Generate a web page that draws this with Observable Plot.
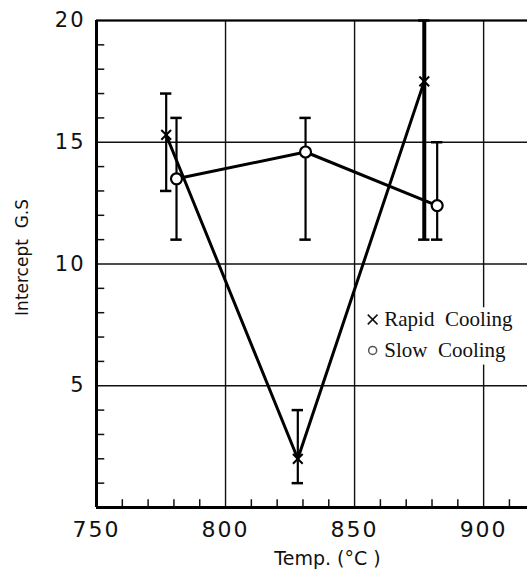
<!DOCTYPE html>
<html>
<head>
<meta charset="utf-8">
<script src="https://cdn.jsdelivr.net/npm/d3@7"></script>
<script src="https://cdn.jsdelivr.net/npm/@observablehq/plot@0.6"></script>
<style>
  html, body { margin: 0; padding: 0; background: #fff; }
  #chart svg { display: block; }
  g[aria-label="x-axis tick label"] text, g[aria-label="y-axis tick label"] text { letter-spacing: 2px; }
</style>
</head>
<body>
<div id="chart"></div>
<script>
// Rapid cooling (×)
const tempsRapid = [777, 828, 877];
const gsRapid = [15.3, 2.0, 17.5];
const loRapid = [13, 1, 11];
const hiRapid = [17, 4, 20];
// Slow cooling (○)
const tempsSlow = [781, 831, 882];
const gsSlow = [13.5, 14.6, 12.4];
const loSlow = [11, 11, 11];
const hiSlow = [16, 16, 15];
// Axes
const xTicks = [750, 800, 850, 900];
const yTicks = [5, 10, 15, 20];
const xMinor = d3.range(760, 917, 10).filter(v => v % 50 !== 0);
const yMinor = d3.range(1, 20).filter(v => v % 5 !== 0);
const legendLabels = ["Rapid  Cooling", "Slow  Cooling"];

const rapid = tempsRapid.map((t, i) => ({t, g: gsRapid[i], lo: loRapid[i], hi: hiRapid[i], w: i === 2 ? 4 : 2.2}));
const slow = tempsSlow.map((t, i) => ({t, g: gsSlow[i], lo: loSlow[i], hi: hiSlow[i], w: 2.2}));
const capHalf = 2.2;

const chart = Plot.plot({
  width: 527,
  height: 575,
  marginLeft: 96,
  marginRight: 0,
  marginTop: 20,
  marginBottom: 68,
  x: {domain: [750, 917], axis: null},
  y: {domain: [0, 20], axis: null},
  style: {background: "#fff", color: "#111"},
  marks: [
    // grid
    Plot.ruleY(yTicks, {stroke: "#111", strokeWidth: 1.4}),
    Plot.ruleX(xTicks.filter(v => v > 750), {stroke: "#111", strokeWidth: 1.4}),
    // minor ticks (inner)
    Plot.ruleY(yMinor, {x1: 750, x2: 753.2, stroke: "#111", strokeWidth: 1.5}),
    Plot.ruleX(xMinor, {y1: 0, y2: 0.32, stroke: "#111", strokeWidth: 1.5}),
    // lines
    Plot.line(rapid, {x: "t", y: "g", stroke: "#000", strokeWidth: 3}),
    Plot.line(slow, {x: "t", y: "g", stroke: "#000", strokeWidth: 3}),
    // error bars
    Plot.ruleX(rapid, {x: "t", y1: "lo", y2: "hi", stroke: "#000", strokeWidth: "w"}),
    Plot.ruleX(slow, {x: "t", y1: "lo", y2: "hi", stroke: "#000", strokeWidth: "w"}),
    Plot.ruleY([...rapid, ...slow], {y: "lo", x1: d => d.t - capHalf, x2: d => d.t + capHalf, stroke: "#000", strokeWidth: 2.5}),
    Plot.ruleY([...rapid, ...slow], {y: "hi", x1: d => d.t - capHalf, x2: d => d.t + capHalf, stroke: "#000", strokeWidth: 2.5}),
    // markers
    Plot.dot(rapid, {x: "t", y: "g", symbol: "times", r: 4.5, stroke: "#000", strokeWidth: 2, fill: "#fff"}),
    Plot.dot(slow, {x: "t", y: "g", symbol: "circle", r: 5.5, stroke: "#000", strokeWidth: 2.2, fill: "#fff"}),
    // legend
    Plot.rect([0], {x1: 852.5, x2: 917, y1: 5.85, y2: 8.2, fill: "#fff"}),
    Plot.dot([0], {x: 857, y: 7.72, symbol: "times", r: 4.5, stroke: "#111", strokeWidth: 1.5}),
    Plot.dot([0], {x: 857, y: 6.45, symbol: "circle", r: 4, stroke: "#555", strokeWidth: 1.5, fill: "none"}),
    Plot.text([legendLabels[0]], {x: 861.5, y: 7.72, text: d => d, textAnchor: "start", fontSize: 21, fontFamily: "Liberation Serif", fill: "#111"}),
    Plot.text([legendLabels[1]], {x: 861.5, y: 6.45, text: d => d, textAnchor: "start", fontSize: 21, fontFamily: "Liberation Serif", fill: "#111"}),
    // spines
    Plot.ruleX([750], {y1: 0, y2: 20, stroke: "#000", strokeWidth: 3}),
    Plot.ruleY([0], {x1: 750, x2: 917, stroke: "#000", strokeWidth: 3}),
    Plot.ruleY([20], {stroke: "#000", strokeWidth: 2}),
    // axes labels
    Plot.axisX({ticks: xTicks, tickSize: 0, tickPadding: 14, fontSize: 22, fontFamily: "DejaVu Sans", label: null, tickFormat: d => String(d)}),
    Plot.axisY({ticks: yTicks, tickSize: 0, tickPadding: 11, fontSize: 21, fontFamily: "DejaVu Sans", label: null, tickFormat: d => String(d)}),
    Plot.text(["Intercept  G.S"], {x: 750, y: 10.27, dx: -74, rotate: -90, text: d => d, fontSize: 17, fontFamily: "DejaVu Sans", fill: "#111"}),
    Plot.text(["Temp. (°C )"], {x: 839.5, y: 0, dy: 51, text: d => d, fontSize: 19, fontFamily: "DejaVu Sans", fill: "#111"})
  ]
});
document.getElementById("chart").appendChild(chart);
</script>
</body>
</html>
